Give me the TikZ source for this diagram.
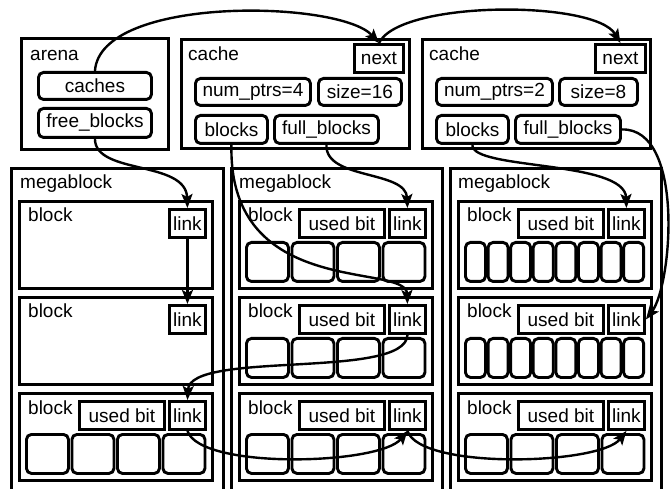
\documentclass[tikz,border=0pt]{standalone}
\usepackage{fontspec}
\setmainfont{Liberation Sans}
\usetikzlibrary{arrows.meta}

\begin{document}
\begin{tikzpicture}[x=1pt,y=-1pt,font=\fontsize{19}{22}\selectfont,
  outerbox/.style={draw,line width=2.9pt,anchor=north west,inner sep=0pt},
  sqbox/.style={draw,line width=2.9pt,anchor=north west,inner sep=0pt},
  fieldbox/.style={draw,line width=2.9pt,rounded corners=5pt,anchor=north west,inner sep=0pt},
  cellbox/.style={draw,line width=2.9pt,rounded corners=5pt,anchor=north west,inner sep=0pt},
  titletext/.style={anchor=base west,inner sep=0pt},
  ptr/.style={line width=2.4pt,-{Stealth[length=14pt,width=11pt,inset=3pt]}}]
\useasboundingbox (0,0) rectangle (670,489);
\clip (0,0) rectangle (670,489);

\node[outerbox,minimum width=147,minimum height=111](arena) at (20,37){};
\node[titletext](arenaT) at (30,61){arena};
\node[fieldbox,minimum width=113,minimum height=27](caches) at (37,71){caches};
\node[fieldbox,minimum width=113,minimum height=29](freeblk) at (37,107){free\_blocks};

\node[outerbox,minimum width=228,minimum height=109](cacheA) at (180,38){};
\node[titletext](cacheAT) at (188,61){cache};
\node[sqbox,minimum width=49,minimum height=28](nextA) at (353,43){next};
\node[fieldbox,minimum width=115,minimum height=27](nptrA) at (194,77){num\_ptrs=4};
\node[fieldbox,minimum width=83,minimum height=27](sizeA) at (317,77){size=16};
\node[fieldbox,minimum width=72,minimum height=28](blkA) at (194,114){blocks};
\node[fieldbox,minimum width=104,minimum height=28](fullA) at (273,114){full\_blocks};

\node[outerbox,minimum width=228,minimum height=109](cacheB) at (421,38){};
\node[titletext](cacheBT) at (429,61){cache};
\node[sqbox,minimum width=50,minimum height=28](nextB) at (594,43){next};
\node[fieldbox,minimum width=116,minimum height=27](nptrB) at (435,77){num\_ptrs=2};
\node[fieldbox,minimum width=78,minimum height=27](sizeB) at (558,77){size=8};
\node[fieldbox,minimum width=72,minimum height=28](blkB) at (435,114){blocks};
\node[fieldbox,minimum width=105,minimum height=28](fullB) at (514,114){full\_blocks};

\node[outerbox,minimum width=212,minimum height=340](megaA) at (10,167){};
\node[titletext](megaAT) at (20,189){megablock};
\node[outerbox,minimum width=211,minimum height=340](megaB) at (230,167){};
\node[titletext](megaBT) at (239,189){megablock};
\node[outerbox,minimum width=211,minimum height=340](megaC) at (449,167){};
\node[titletext](megaCT) at (458,189){megablock};

\node[outerbox,minimum width=193,minimum height=87](bA1) at (18,200){};
\node[titletext](tA1) at (28,222){block};
\node[sqbox,minimum width=36,minimum height=28](lA1) at (168,208){link};
\node[outerbox,minimum width=193,minimum height=87](bA2) at (18,296){};
\node[titletext](tA2) at (28,318){block};
\node[sqbox,minimum width=36,minimum height=28](lA2) at (168,304){link};
\node[outerbox,minimum width=193,minimum height=87](bA3) at (18,392){};
\node[titletext](tA3) at (28,414){block};
\node[sqbox,minimum width=85,minimum height=28](uA3) at (78,400){used bit};
\node[sqbox,minimum width=36,minimum height=28](lA3) at (168,400){link};
\foreach \i in {0,...,3}
  \node[cellbox,minimum width=42,minimum height=39](cA3-\i) at (25+45.5*\i,433){};

\node[outerbox,minimum width=193,minimum height=87](bB1) at (238,200){};
\node[titletext](tB1) at (248,222){block};
\node[sqbox,minimum width=85,minimum height=28](uB1) at (298,208){used bit};
\node[sqbox,minimum width=36,minimum height=28](lB1) at (388,208){link};
\foreach \i in {0,...,3}
  \node[cellbox,minimum width=42,minimum height=39](cB1-\i) at (245+45.5*\i,241){};
\node[outerbox,minimum width=193,minimum height=87](bB2) at (238,296){};
\node[titletext](tB2) at (248,318){block};
\node[sqbox,minimum width=85,minimum height=28](uB2) at (298,304){used bit};
\node[sqbox,minimum width=36,minimum height=28](lB2) at (388,304){link};
\foreach \i in {0,...,3}
  \node[cellbox,minimum width=42,minimum height=39](cB2-\i) at (245+45.5*\i,337){};
\node[outerbox,minimum width=193,minimum height=87](bB3) at (238,392){};
\node[titletext](tB3) at (248,414){block};
\node[sqbox,minimum width=85,minimum height=28](uB3) at (298,400){used bit};
\node[sqbox,minimum width=36,minimum height=28](lB3) at (388,400){link};
\foreach \i in {0,...,3}
  \node[cellbox,minimum width=42,minimum height=39](cB3-\i) at (245+45.5*\i,433){};

\node[outerbox,minimum width=193,minimum height=87](bC1) at (457,200){};
\node[titletext](tC1) at (467,222){block};
\node[sqbox,minimum width=85,minimum height=28](uC1) at (517,208){used bit};
\node[sqbox,minimum width=36,minimum height=28](lC1) at (607,208){link};
\foreach \i in {0,...,7}
  \node[cellbox,minimum width=20,minimum height=39](cC1-\i) at (464+22.6*\i,241){};
\node[outerbox,minimum width=193,minimum height=87](bC2) at (457,296){};
\node[titletext](tC2) at (467,318){block};
\node[sqbox,minimum width=85,minimum height=28](uC2) at (517,304){used bit};
\node[sqbox,minimum width=36,minimum height=28](lC2) at (607,304){link};
\foreach \i in {0,...,7}
  \node[cellbox,minimum width=20,minimum height=39](cC2-\i) at (464+22.6*\i,337){};
\node[outerbox,minimum width=193,minimum height=87](bC3) at (457,392){};
\node[titletext](tC3) at (467,414){block};
\node[sqbox,minimum width=85,minimum height=28](uC3) at (517,400){used bit};
\node[sqbox,minimum width=36,minimum height=28](lC3) at (607,400){link};
\foreach \i in {0,...,3}
  \node[cellbox,minimum width=42,minimum height=39](cC3-\i) at (464+45.5*\i,433){};

\draw[ptr] (caches.north) .. controls (100,-5) and (340,0) .. (nextA.north);
\draw[ptr] (nextA.north) .. controls (400,0) and (595,0) .. (nextB.north);
\draw[ptr] (freeblk.south) .. controls (95,175) and (186,160) .. (lA1.north);
\draw[ptr] (lA1.south) -- (lA2.north);
\draw[ptr] (blkA.south) .. controls (228,300) and (406,262) .. (lB2.north);
\draw[ptr] (fullA.south) .. controls (325,180) and (406,170) .. (lB1.north);
\draw[ptr] (lB2.south) .. controls (406,380) and (190,350) .. (lA3.north);
\draw[ptr] (lA3.south) .. controls (200,470) and (380,465) .. (lB3.south);
\draw[ptr] (lB3.south) .. controls (420,470) and (600,465) .. (lC3.south);
\draw[ptr] (blkB.south) .. controls (471,170) and (625,160) .. (lC1.north);
\draw[ptr] (fullB.east) .. controls (685,128) and (672,285) .. (lC2.east);
\end{tikzpicture}
\end{document}
